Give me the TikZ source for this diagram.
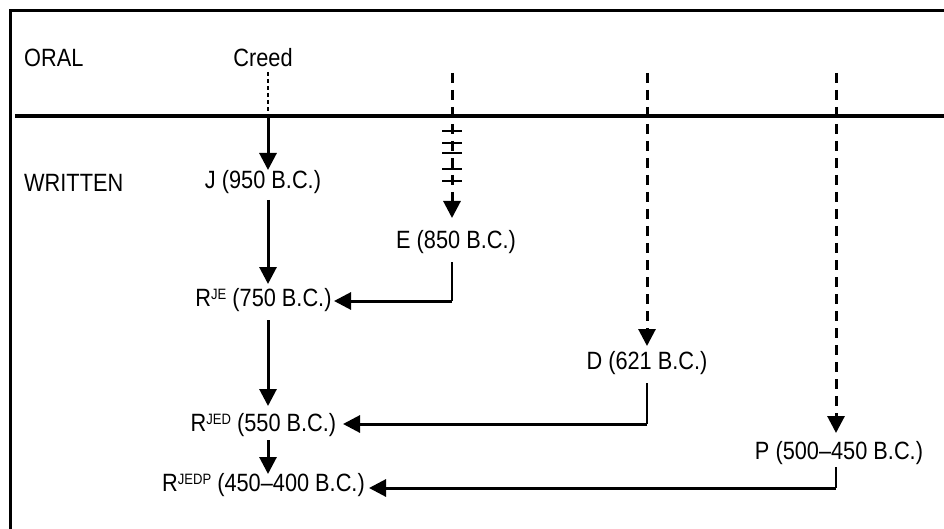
\documentclass[tikz,border=0pt]{standalone}
\usepackage{fontspec}
\setmainfont{Liberation Sans}[FakeStretch=0.87]
\usetikzlibrary{arrows.meta}
\newcommand{\supr}[1]{{\fontsize{15}{15}\selectfont\raisebox{7pt}{#1}}}
\tikzset{
  lbl/.style={inner sep=0pt, font=\fontsize{25}{29}\selectfont},
  arr/.style={line width=3pt, -{Triangle[width=17pt,length=17pt]}},
  darr/.style={line width=3pt, dash pattern=on 10pt off 7pt, -{Triangle[width=17pt,length=17pt]}},
  conn/.style={line width=2.2pt},
  bar/.style={line width=1.6pt},
}
\begin{document}
\begin{tikzpicture}[x=1pt,y=-1pt]
\useasboundingbox (0,0) rectangle (944,529);
\clip (0,0) rectangle (944,529);
\draw[line width=3.8pt] (10.5,10.5) rectangle (1000,600);
\draw[line width=3.8pt] (15,116) -- (1000,116);

% labels
\node[lbl, anchor=west] (oral) at (24,58) {ORAL};
\node[lbl, anchor=west] (written) at (24,183) {WRITTEN};
\node[lbl] (creed) at (263,58) {Creed};
\node[lbl] (j) at (263,182) {J (950 B.C.)};
\node[lbl] (e) at (456,242) {E (850 B.C.)};
\node[lbl] (rje) at (263.5,300) {R\supr{JE} (750 B.C.)};
\node[lbl] (d) at (647,363) {D (621 B.C.)};
\node[lbl] (rjed) at (263.5,425) {R\supr{JED} (550 B.C.)};
\node[lbl] (p) at (839,453) {P (500--450 B.C.)};
\node[lbl] (rjedp) at (263.5,485) {R\supr{JEDP} (450--400 B.C.)};

% coordinates
\coordinate (c0) at (268,72);
\coordinate (c1) at (268,116);
\coordinate (jt) at (268,170);
\coordinate (jb) at (268,200);
\coordinate (rjet) at (268,284);
\coordinate (rjeb) at (268,320);
\coordinate (rjedt) at (268,406);
\coordinate (rjedb) at (268,440);
\coordinate (rjedpt) at (268,474);
\coordinate (e0) at (452,73);
\coordinate (et) at (452,218);
\coordinate (eb) at (452,262);
\coordinate (ec) at (452,301);
\coordinate (rjer) at (334,301);
\coordinate (d0) at (647,73);
\coordinate (dt) at (647,346);
\coordinate (db) at (647,383);
\coordinate (dc) at (647,424);
\coordinate (rjedr) at (343,424);
\coordinate (p0) at (836,73);
\coordinate (pt) at (836,433);
\coordinate (pb) at (836,467);
\coordinate (pc) at (836,488);
\coordinate (rjedpr) at (369,488);

% Creed -> J
\draw[line width=1.3pt, dash pattern=on 4pt off 3pt] (c0) -- (c1);
\draw[arr] (c1) -- (jt);
\draw[arr] (jb) -- (rjet);
\draw[arr] (rjeb) -- (rjedt);
\draw[arr] (rjedb) -- (rjedpt);

% E
\draw[darr] (e0) -- (et);
\foreach \yy in {131,143,153,169,181} \draw[bar] (442,\yy) -- (462,\yy);
\draw[conn] (eb) -- (ec);
\draw[arr] (ec) -- (rjer);

% D
\draw[darr] (d0) -- (dt);
\draw[conn] (db) -- (dc);
\draw[arr] (dc) -- (rjedr);

% P
\draw[darr] (p0) -- (pt);
\draw[conn] (pb) -- (pc);
\draw[arr] (pc) -- (rjedpr);
\end{tikzpicture}
\end{document}
